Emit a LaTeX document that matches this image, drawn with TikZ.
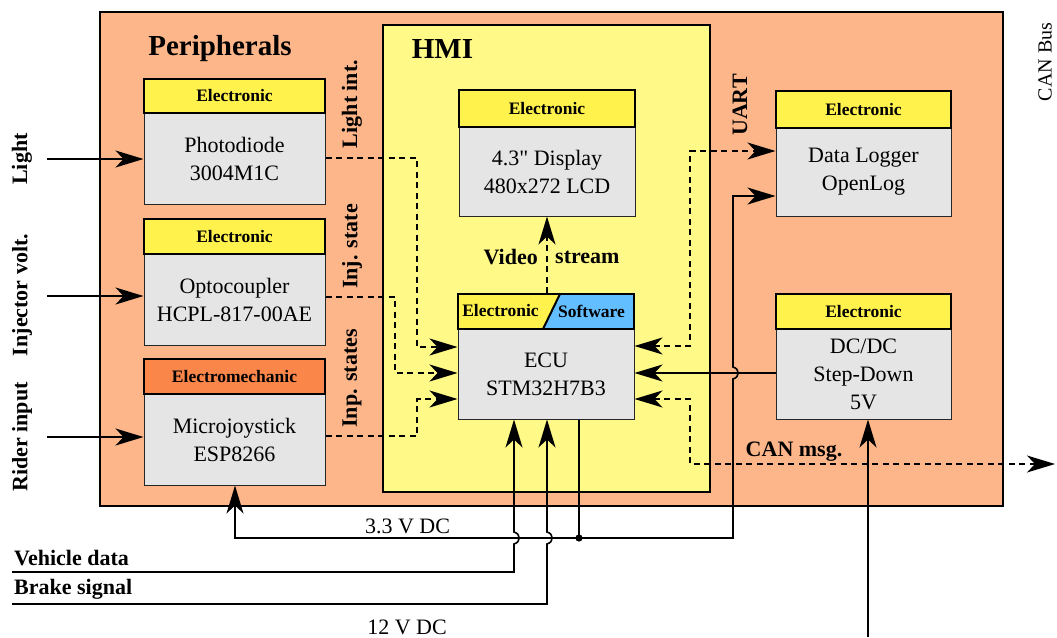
\documentclass[tikz,border=0pt]{standalone}
\usepackage{fontspec}
\setmainfont{Liberation Serif}
\newfontfamily\straightserif[Ligatures=TeXOff]{Liberation Serif}
\usetikzlibrary{arrows.meta}
\definecolor{periphfill}{RGB}{253,182,138}
\definecolor{hmifill}{RGB}{255,249,135}
\definecolor{hdryellow}{RGB}{255,242,77}
\definecolor{hdrorange}{RGB}{250,134,73}
\definecolor{swblue}{RGB}{99,190,255}
\definecolor{bodygray}{RGB}{229,229,229}
\begin{document}
\begin{tikzpicture}[x=1pt,y=-1pt,
  >={Stealth[length=28pt,width=17pt,inset=8pt]},
  link/.style={line width=1.6pt},
  dlink/.style={line width=1.6pt,dash pattern=on 6pt off 4.5pt},
  container/.style={draw,line width=1.4pt,inner sep=0pt},
  hdr/.style={draw,line width=2pt,fill=hdryellow,inner sep=0pt,
    font=\fontsize{17.5}{20}\selectfont\bfseries},
  hdrtxt/.style={inner sep=0pt,font=\fontsize{17.5}{20}\selectfont\bfseries},
  bodybox/.style={draw=black!85,line width=1pt,fill=bodygray,inner sep=0pt,
    align=center,font=\fontsize{22}{28}\selectfont},
  lbl/.style={inner sep=0pt,font=\fontsize{22}{26}\selectfont\bfseries},
  vlbl/.style={lbl,rotate=90},
  title/.style={inner sep=0pt,font=\fontsize{29}{33}\selectfont\bfseries},
  plain/.style={inner sep=0pt,font=\fontsize{22}{26}\selectfont}]

\useasboundingbox (0,0) rectangle (1057,637);
\fill[white] (0,0) rectangle (1057,637);

% containers
\node[container,fill=periphfill,minimum width=903pt,minimum height=494pt] (periph) at (551.5,259) {};
\node[container,fill=hmifill,minimum width=327pt,minimum height=467pt] (hmi) at (546.5,258.5) {};
\node[title,anchor=base] (periphtitle) at (220,55) {Peripherals};
\node[title,anchor=base] (hmititle) at (442.5,58) {HMI};

% peripheral blocks
\node[bodybox,minimum width=181pt,minimum height=91pt] (photo) at (234.5,158.5) {Photodiode\\3004M1C};
\node[hdr,minimum width=181pt,minimum height=34pt] (photoh) at (234.5,96) {Electronic};
\node[bodybox,minimum width=181pt,minimum height=91pt] (opto) at (234.5,299.5) {Optocoupler\\HCPL-817-00AE};
\node[hdr,minimum width=181pt,minimum height=35pt] (optoh) at (234.5,236.5) {Electronic};
\node[bodybox,minimum width=181pt,minimum height=91pt] (joy) at (234.5,439.5) {Microjoystick\\ESP8266};
\node[hdr,fill=hdrorange,minimum width=181pt,minimum height=35pt] (joyh) at (234.5,376.5) {Electromechanic};

% HMI blocks
\node[bodybox,minimum width=176pt,minimum height=89pt] (disp) at (547,171.5) {4.3{\straightserif "} Display\\480x272 LCD};
\node[hdr,minimum width=176pt,minimum height=37pt] (disph) at (547,108.5) {Electronic};
\node[bodybox,minimum width=176pt,minimum height=90pt] (ecu) at (546,374) {ECU\\STM32H7B3};
\fill[hdryellow] (458,294) -- (560,294) -- (543,329) -- (458,329) -- cycle;
\fill[swblue] (560,294) -- (634,294) -- (634,329) -- (543,329) -- cycle;
\draw[line width=2pt] (560,294) -- (543,329);
\node[hdr,fill=none,minimum width=176pt,minimum height=35pt] (ecuh) at (546,311.5) {};
\node[hdrtxt] (ecuel) at (500.5,311) {Electronic};
\node[hdrtxt] (ecusw) at (591.5,311) {Software};

% right-hand blocks
\node[bodybox,minimum width=175pt,minimum height=88pt] (logger) at (863.5,172) {Data Logger\\OpenLog};
\node[hdr,minimum width=175pt,minimum height=37pt] (loggerh) at (863.5,109.5) {Electronic};
\node[bodybox,minimum width=175pt,minimum height=90pt] (dcdc) at (863.5,374) {DC/DC\\Step-Down\\5V};
\node[hdr,minimum width=175pt,minimum height=35pt] (dcdch) at (863.5,311.5) {Electronic};

% external inputs
\coordinate (inlight) at (47,159);
\coordinate (ininj) at (47,296);
\coordinate (inrider) at (47,437);
\draw[link,->] (inlight) -- (photo.west |- inlight);
\draw[link,->] (ininj) -- (opto.west |- ininj);
\draw[link,->] (inrider) -- (joy.west |- inrider);
\node[vlbl] (llight) at (22,159) {Light};
\node[vlbl] (linj) at (22,295) {Injector volt.};
\node[vlbl] (lrider) at (22,437) {Rider input};

% sensor signals into the ECU
\draw[dlink,->] (photo.east |- 0,158) -- (417,158) -- (417,347) -- (ecu.west |- 0,347);
\draw[dlink,->] (opto.east |- 0,297) -- (395,297) -- (395,373) -- (ecu.west |- 0,373);
\draw[dlink,->] (joy.east |- 0,436) -- (417,436) -- (417,399) -- (ecu.west |- 0,399);
\node[vlbl] (llint) at (352,104) {Light int.};
\node[vlbl] (linjs) at (352,246.5) {Inj. state};
\node[vlbl] (linps) at (352,378.5) {Inp. states};

% video stream
\draw[dlink,->] (ecuh.north -| 547,0) -- (disp.south -| 547,0);
\node[lbl,anchor=east] (lvideo) at (538,257) {Video};
\node[lbl,anchor=west] (lstream) at (555,257) {stream};

% UART link to the data logger
\draw[dlink,<->] (ecu.east |- 0,346) -- (690,346) -- (690,151) -- (logger.west |- 0,151);
\node[vlbl] (luart) at (740,105) {UART};

% 5 V supply into the ECU
\draw[link,->] (dcdc.west |- 0,373) -- (ecu.east |- 0,373);

% CAN messages
\coordinate (canout) at (1055,464);
\draw[dlink,<->] (ecu.east |- 0,399) -- (690,399) -- (690,464) -- (canout);
\node[lbl] (lcan) at (794,452) {CAN msg.};
\node[plain,rotate=90,font=\fontsize{20}{24}\selectfont] (lcanbus) at (1045,62) {CAN Bus};

% 3.3 V distribution
\coordinate (jn) at (579,538);
\draw[link] (ecu.south -| jn) -- (jn);
\fill (jn) circle (3.6);
\draw[link,<->] (joy.south -| 235,0) -- (235,538) -- (733,538) -- (733,379)
  .. controls (740,377) and (740,369) .. (733,367) -- (733,196) -- (logger.west |- 0,196);
\node[plain] (l33) at (407.5,526) {3.3 V DC};

% vehicle data and brake signal
\coordinate (vd) at (12,572);
\coordinate (bs) at (12,604);
\draw[link,->] (vd) -- (514,572) -- (514,544)
  .. controls (521,542) and (521,534) .. (514,532) -- (ecu.south -| 514,0);
\draw[link,->] (bs) -- (547,604) -- (547,544)
  .. controls (554,542) and (554,534) .. (547,532) -- (ecu.south -| 547,0);
\node[lbl,anchor=west] (lvd) at (14,558) {Vehicle data};
\node[lbl,anchor=west] (lbs) at (14,589) {Brake signal};

% 12 V supply
\coordinate (vin) at (868,637);
\draw[link,->] (vin) -- (dcdc.south -| vin);
\node[plain] (l12) at (407,627) {12 V DC};
\end{tikzpicture}
\end{document}
